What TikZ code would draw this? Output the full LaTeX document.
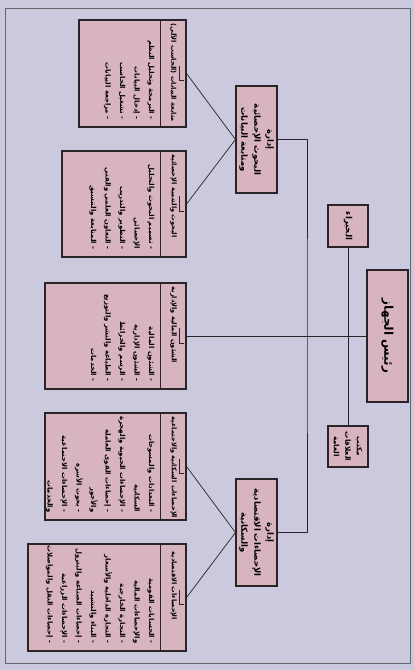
\documentclass[tikz,border=0pt]{standalone}
\usepackage{fontspec}
\newfontfamily\arabicfont[Script=Arabic]{DejaVu Sans}
\TeXXeTstate=1
\usetikzlibrary{calc}

\definecolor{paper}{RGB}{202,201,222}
\definecolor{boxpink}{RGB}{216,180,192}
\definecolor{ink}{RGB}{40,36,40}

\newcommand{\rl}[1]{\beginR #1\endR}

\tikzset{
  unitbox/.style={draw=ink, line width=1.1pt, fill=boxpink, inner sep=0pt},
  hdrtext/.style={rotate=-90, inner sep=0pt, font=\arabicfont\bfseries\fontsize{6.6}{8}\selectfont},
  itemtext/.style={rotate=-90, inner sep=0pt, align=right, font=\arabicfont\bfseries\fontsize{6.9}{14.5}\selectfont},
  depttext/.style={rotate=-90, inner sep=0pt, align=center, font=\arabicfont\bfseries\fontsize{8.5}{13}\selectfont},
  conn/.style={draw=ink, line width=0.7pt},
}

\begin{document}
\begin{tikzpicture}[x=1pt,y=-1pt]
    \fill[paper] (0,0) rectangle (414,670);
    \useasboundingbox (0,0) rectangle (414,670);
    \draw[ink!70, line width=0.6pt] (5,8) rectangle (410,663);
    % top level
    \node[unitbox, minimum width=41pt, minimum height=132pt] (head) at (387.5,336) {};
    \node[depttext, font=\arabicfont\bfseries\fontsize{12}{14}\selectfont] (head-t) at (head) {\rl{رئيس الجهاز}};
    \node[unitbox, minimum width=40pt, minimum height=42pt] (experts) at (348,226) {};
    \node[depttext, font=\arabicfont\bfseries\fontsize{8.5}{10}\selectfont] (experts-t) at (experts) {\rl{الخبراء}};
    \node[unitbox, minimum width=40pt, minimum height=41pt] (pr) at (348,446.5) {};
    \node[depttext, font=\arabicfont\bfseries\fontsize{7.2}{11.5}\selectfont] (pr-t) at (pr) {\rl{مكتب}\\\rl{العلاقات}\\\rl{العامة}};
    % departments
    \node[unitbox, minimum width=41pt, minimum height=107pt] (resdept) at (256.5,139.5) {};
    \node[depttext] (resdept-t) at (resdept) {\rl{إدارة}\\\rl{البحوث الإحصائية}\\\rl{ومتابعة البيانات}};
    \node[unitbox, minimum width=41pt, minimum height=107pt] (ecodept) at (256.5,532.5) {};
    \node[depttext] (ecodept-t) at (ecodept) {\rl{إدارة}\\\rl{الإحصاءات الاقتصادية}\\\rl{والسكانية}};
    % units
    \node[unitbox, minimum width=107pt, minimum height=107pt] (data) at (132.5,73.5) {};
    \node[unitbox, minimum width=124pt, minimum height=106pt] (research) at (124,204) {};
    \node[unitbox, minimum width=141pt, minimum height=106pt] (finance) at (115.5,336) {};
    \node[unitbox, minimum width=141pt, minimum height=107pt] (population) at (115.5,466.5) {};
    \node[unitbox, minimum width=158pt, minimum height=107pt] (economy) at (107,597.5) {};
    \foreach \u in {data,research,finance,population,economy} {
      \draw[ink, line width=1pt] ([xshift=-26pt]\u.north east) -- ([xshift=-26pt]\u.south east);
      \draw[ink, line width=1pt] ($(\u.east)+(-7,-8)$) -- ++(0,15) -- ++(4,0);
    }
    \node[hdrtext, anchor=west] (data-h) at ($(data.north east)+(-13,4)$) {\rl{متابعة البيانات (الحاسب الآلي)}};
    \node[itemtext, anchor=north east] (data-i) at ($(data.south east)+(-32,-8)$)
      {\rl{- البرمجة وتحليل النظم}\\\rl{- إدخال البيانات}\\\rl{- تشغيل الحاسب}\\\rl{- مراجعة البيانات}};
    \node[hdrtext, anchor=west] (research-h) at ($(research.north east)+(-13,4)$) {\rl{البحوث والتنمية الإحصائية}};
    \node[itemtext, anchor=north east] (research-i) at ($(research.south east)+(-32,-8)$)
      {\rl{- تصميم البحوث والتحليل}\\\rl{الإحصائي\hspace{5pt}}\\\rl{- التطوير والتدريب}\\\rl{- التعاون العلمي والفني}\\\rl{- المتابعة والتنسيق}};
    \node[hdrtext, anchor=west] (finance-h) at ($(finance.north east)+(-13,4)$) {\rl{الشئون المالية والإدارية}};
    \node[itemtext, anchor=north east] (finance-i) at ($(finance.south east)+(-32,-8)$)
      {\rl{- الشئون المالية}\\\rl{- الشئون الإدارية}\\\rl{- الرسم والخرائط}\\\rl{- الطباعة والنشر والتوزيع}\\\rl{- الخدمات}};
    \node[hdrtext, anchor=west] (population-h) at ($(population.north east)+(-13,4)$) {\rl{الإحصاءات السكانية والاجتماعية}};
    \node[itemtext, anchor=north east] (population-i) at ($(population.south east)+(-32,-8)$)
      {\rl{- التعدادات والمسوحات}\\\rl{السكانية\hspace{5pt}}\\\rl{- الإحصاءات الحيوية والهجرة}\\\rl{- إحصاءات القوى العاملة}\\\rl{والأجور\hspace{5pt}}\\\rl{- بحوث الأسرة}\\\rl{- الإحصاءات الاجتماعية}\\\rl{والخدمات\hspace{5pt}}};
    \node[hdrtext, anchor=west] (economy-h) at ($(economy.north east)+(-13,8)$) {\rl{الإحصاءات الاقتصادية}};
    \node[itemtext, anchor=north east] (economy-i) at ($(economy.south east)+(-32,-8)$)
      {\rl{- الحسابات القومية}\\\rl{والإحصاءات المالية\hspace{5pt}}\\\rl{- التجارة الخارجية}\\\rl{- التجارة الداخلية والأسعار}\\\rl{- البناء والتشييد}\\\rl{- إحصاءات الصناعة والبترول}\\\rl{- الإحصاءات الزراعية}\\\rl{- إحصاءات النقل والمواصلات}};
    % connectors
    \coordinate (spine) at (307,336);
    \draw[conn] (experts.south) -- (pr.north);
    \draw[conn] (finance.east) -- (head.west);
    \draw[conn] (resdept.east) -| (spine) |- (ecodept.east);
    \draw[conn] (data.east) -- (resdept.west);
    \draw[conn] (research.east) -- (resdept.west);
    \draw[conn] (population.east) -- (ecodept.west);
    \draw[conn] (economy.east) -- (ecodept.west);
\end{tikzpicture}
\end{document}
